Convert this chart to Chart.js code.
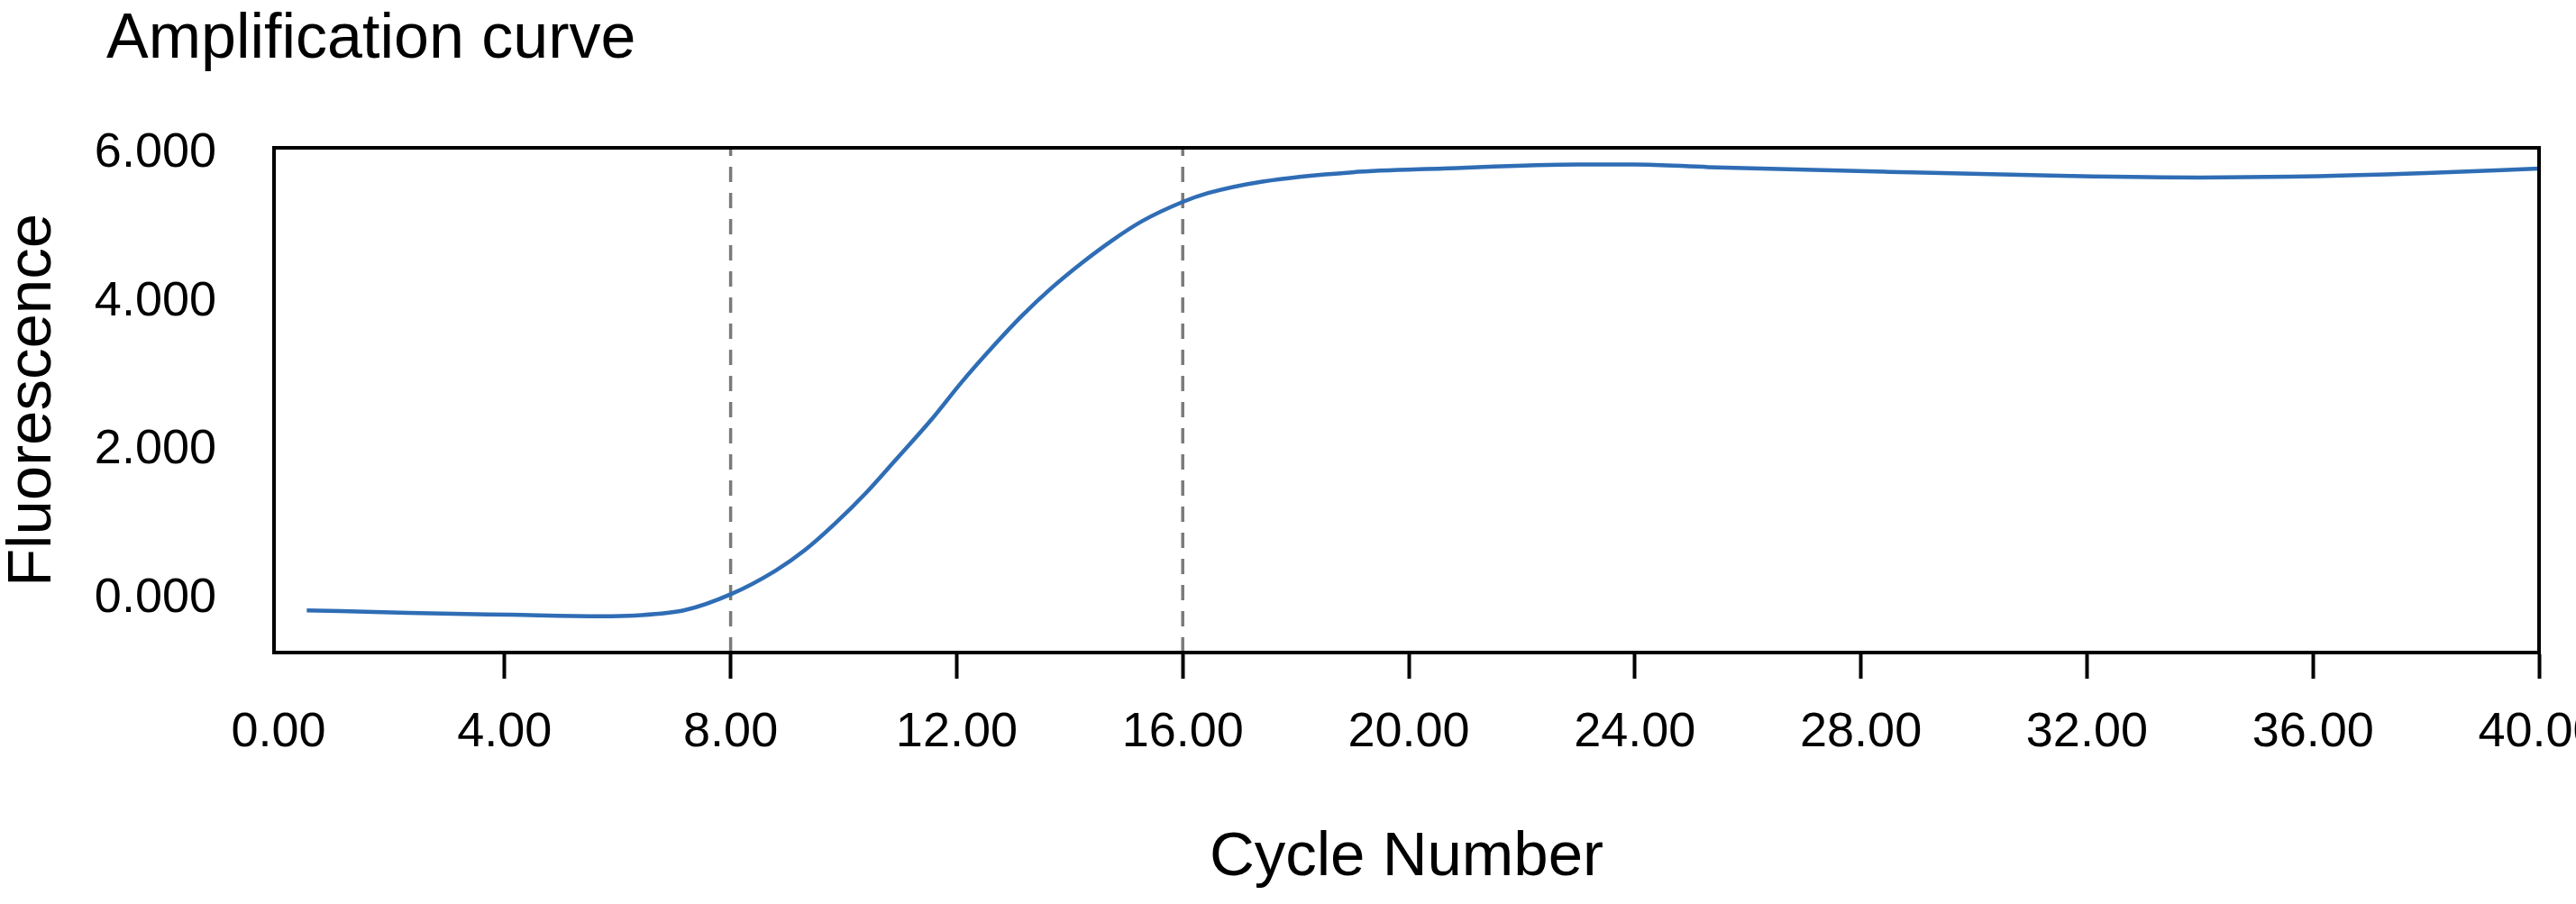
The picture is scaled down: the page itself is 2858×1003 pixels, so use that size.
<!DOCTYPE html>
<html>
<head>
<meta charset="utf-8">
<title>Amplification curve</title>
<script src="https://cdn.jsdelivr.net/npm/chart.js@4.4.1/dist/chart.umd.min.js"></script>
<style>
  html, body { margin: 0; padding: 0; background: #fff; }
  #wrap { width: 2858px; height: 1003px; position: relative; }
</style>
</head>
<body>
<div id="wrap"><canvas id="amp-chart"></canvas></div>
<script>
// Values
const cycles = [0.5, 2.3, 4.1, 5.7, 6.3, 7.2, 8, 8.79, 9.32, 9.86, 10.39, 10.92, 11.56, 12.09, 12.62, 13.15, 13.68, 14.22, 14.75, 15.28, 16, 16.45, 17.41, 19, 20.6, 23, 24, 25.3, 28.5, 31.7, 34, 35.6, 38, 40];
const fluorescence = [-0.16, -0.195, -0.22, -0.24, -0.23, -0.155, 0.056, 0.373, 0.656, 1.02, 1.42, 1.87, 2.42, 2.92, 3.38, 3.81, 4.19, 4.53, 4.83, 5.09, 5.35, 5.47, 5.625, 5.75, 5.8, 5.855, 5.855, 5.82, 5.755, 5.7, 5.68, 5.69, 5.74, 5.8];
const markerCycles = [8, 16];
const xTicks = [0, 4, 8, 12, 16, 20, 24, 28, 32, 36, 40];
const yTicks = [0, 2, 4, 6];

// axis limits
const xMin = -0.08, xMax = 40;
const yMin = -0.73, yMax = 6.08;

const FONT = '"Liberation Sans", Arial, Helvetica, sans-serif';

const curvePoints = cycles.map((c, i) => ({ x: c, y: fluorescence[i] }));

// dashed vertical markers, one dataset each
const markerSets = markerCycles.map(c => ({
  label: 'marker ' + c,
  data: [{ x: c, y: yMin }, { x: c, y: yMax }],
  borderColor: '#7a7a7a',
  borderWidth: 3.5,
  borderDash: [17, 12],
  pointRadius: 0,
  tension: 0
}));

// box around the plot + title at top left
const framePlugin = {
  id: 'frame',
  afterDraw(chart) {
    const { ctx, chartArea } = chart;
    ctx.save();
    ctx.strokeStyle = '#000';
    ctx.lineWidth = 4;
    ctx.strokeRect(chartArea.left, chartArea.top, chartArea.right - chartArea.left, chartArea.bottom - chartArea.top);
    ctx.fillStyle = '#000';
    ctx.font = '70px ' + FONT;
    ctx.textBaseline = 'alphabetic';
    ctx.fillText('Amplification curve', 118, 64);
    ctx.restore();
  }
};

const ctx = document.getElementById('amp-chart').getContext('2d');
window.ampChart = new Chart(ctx, {
  type: 'line',
  data: {
    datasets: [
      {
        label: 'Fluorescence',
        data: curvePoints,
        borderColor: '#2f6db5',
        borderWidth: 4.5,
        pointRadius: 0,
        cubicInterpolationMode: 'monotone'
      },
      ...markerSets
    ]
  },
  options: {
    responsive: true,
    maintainAspectRatio: false,
    devicePixelRatio: 1,
    animation: false,
    layout: { padding: { top: 164, left: 2, right: 41, bottom: 0 } },
    plugins: {
      legend: { display: false },
      tooltip: { enabled: false },
      title: { display: false }
    },
    scales: {
      x: {
        type: 'linear',
        min: xMin,
        max: xMax,
        afterBuildTicks(scale) {
          scale.ticks = xTicks.map(v => ({ value: v }));
        },
        afterFit(scale) {
          scale.height = 279;
          scale.paddingRight = 0;
        },
        ticks: {
          color: '#000',
          font: { family: FONT, size: 54 },
          padding: 28,
          maxRotation: 0,
          autoSkip: false,
          callback: v => v.toFixed(2)
        },
        grid: {
          drawOnChartArea: false,
          tickLength: 29,
          tickWidth: 4,
          tickColor: ctx => (ctx.tick && ctx.tick.value === 0) ? 'rgba(0,0,0,0)' : '#000'
        },
        border: { color: '#000', width: 4 },
        title: {
          display: true,
          text: 'Cycle Number',
          color: '#000',
          font: { family: FONT, size: 69 },
          padding: { top: 0, bottom: 10 }
        }
      },
      y: {
        type: 'linear',
        min: yMin,
        max: yMax,
        afterBuildTicks(scale) {
          scale.ticks = yTicks.map(v => ({ value: v }));
        },
        afterFit(scale) {
          scale.width = 302;
        },
        ticks: {
          color: '#000',
          font: { family: FONT, size: 54 },
          padding: 64,
          callback: v => v.toFixed(3)
        },
        grid: { display: false, drawTicks: false },
        border: { color: '#000', width: 4 },
        title: {
          display: true,
          text: 'Fluorescence',
          color: '#000',
          font: { family: FONT, size: 69, lineHeight: 1 },
          padding: { top: 0, bottom: 0 }
        }
      }
    }
  },
  plugins: [framePlugin]
});
</script>
</body>
</html>
